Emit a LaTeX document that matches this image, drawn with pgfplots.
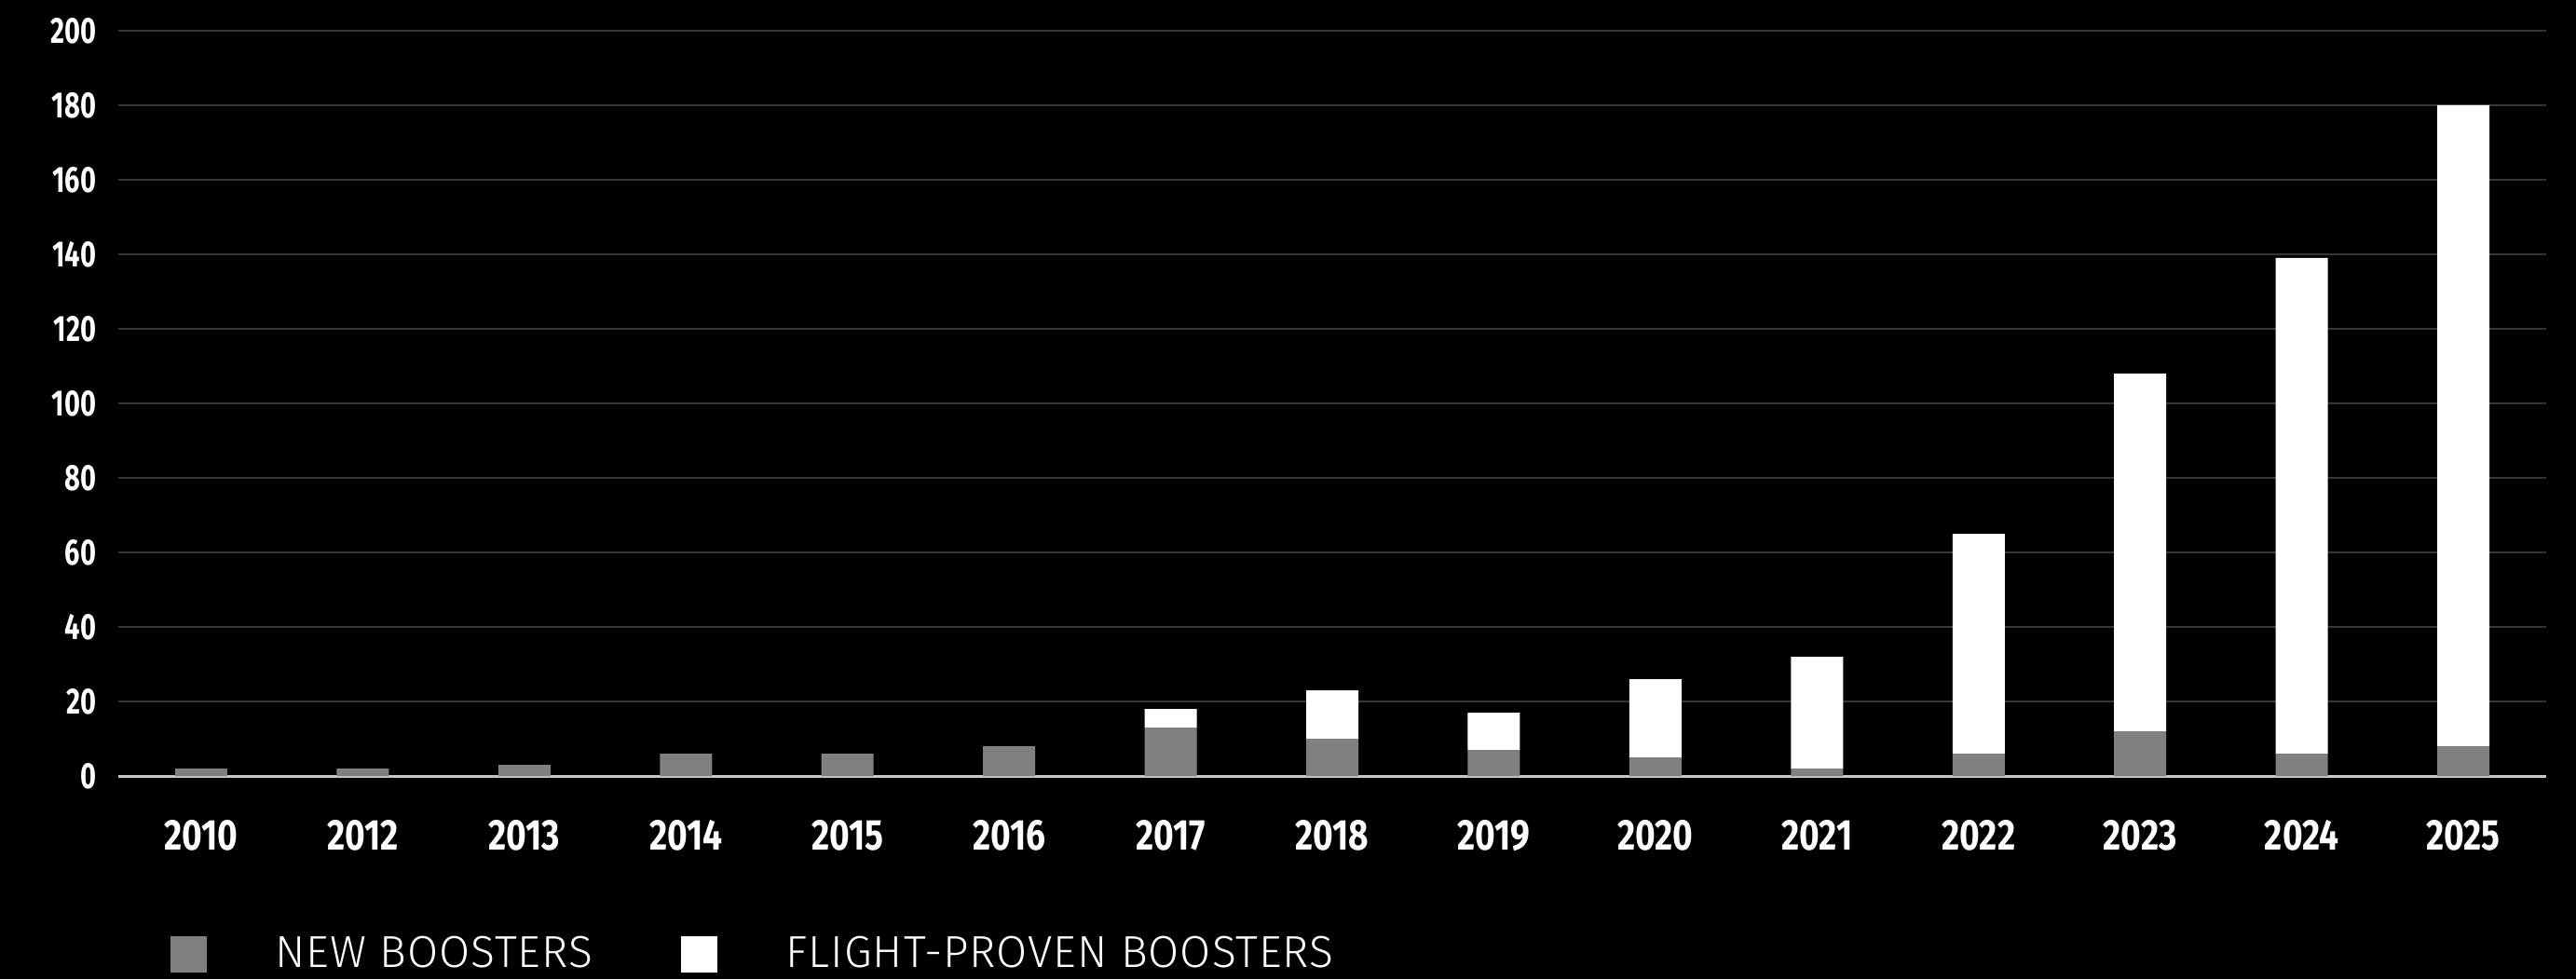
\documentclass[border=0pt]{standalone}
\usepackage{fontspec}
\setmainfont{Fira Sans}
\newfontfamily\tickfont{Fira Sans}[FakeStretch=0.74]
\newfontfamily\xtickfont{Fira Sans}[FakeStretch=0.8]
\newfontfamily\legfont{Fira Sans Light}[LetterSpace=2]
\usepackage{pgfplots}
\pgfplotsset{compat=1.18}

\definecolor{newgray}{HTML}{808080}
\definecolor{gridcol}{HTML}{363636}
\definecolor{basecol}{HTML}{C8C8C8}

% boosters per year (stacked): new / flight-proven
\pgfplotstableread{
idx new proven
0   2   0
1   2   0
2   3   0
3   6   0
4   6   0
5   8   0
6   13  5
7   10  13
8   7   10
9   5   21
10  2   30
11  6   59
12  12  96
13  6   133
14  8   172
}\boosters

\begin{document}
\begin{tikzpicture}
\fill[black] (-31.75pt,-54.5pt) rectangle (659.5pt,208.25pt);
\begin{axis}[
  scale only axis, width=651.5pt, height=200pt,
  ybar stacked, bar width=14pt,
  xmin=-0.513, xmax=14.513, ymin=0, ymax=200,
  ytick={0,20,...,200},
  xtick={0,...,14},
  xticklabels={2010,2012,2013,2014,2015,2016,2017,2018,2019,2020,2021,2022,2023,2024,2025},
  axis x line*=bottom, axis y line*=left,
  y axis line style={draw=none},
  x axis line style={draw=basecol, line width=0.75pt, -},
  major tick length=0pt, tick style={draw=none},
  ymajorgrids, major grid style={color=gridcol, line width=0.45pt},
  /pgf/number format/assume math mode=true,
  yticklabel style={anchor=east, inner sep=0pt, xshift=-5.75pt, text=white,
    font=\tickfont\bfseries\fontsize{9.8}{10}\selectfont},
  xticklabel style={anchor=north, inner sep=0pt, yshift=-11.75pt, text=white,
    font=\xtickfont\bfseries\fontsize{11.6}{12}\selectfont},
  legend columns=2,
  legend cell align=left,
  legend style={draw=none, fill=none, at={(0,0)}, anchor=west,
    xshift=14pt, yshift=-47.9pt, inner sep=0pt, outer sep=0pt,
    nodes={inner sep=0pt, text=white},
    font=\legfont\fontsize{12}{12}\selectfont,
    /tikz/every odd column/.append style={column sep=18.5pt},
    /tikz/every even column/.append style={column sep=23.75pt}},
]
\addplot[fill=newgray, draw=none, forget plot] table[x=idx, y=new] {\boosters};
\addplot[fill=white, draw=none, forget plot] table[x=idx, y=proven] {\boosters};
\addlegendimage{legend image code/.code={\fill[newgray] (0pt,-4.625pt) rectangle (9.25pt,4.625pt);}}
\addlegendentry{NEW BOOSTERS}
\addlegendimage{legend image code/.code={\fill[white] (0pt,-4.625pt) rectangle (9.25pt,4.625pt);}}
\addlegendentry{FLIGHT-PROVEN BOOSTERS}
\end{axis}
\end{tikzpicture}
\end{document}
